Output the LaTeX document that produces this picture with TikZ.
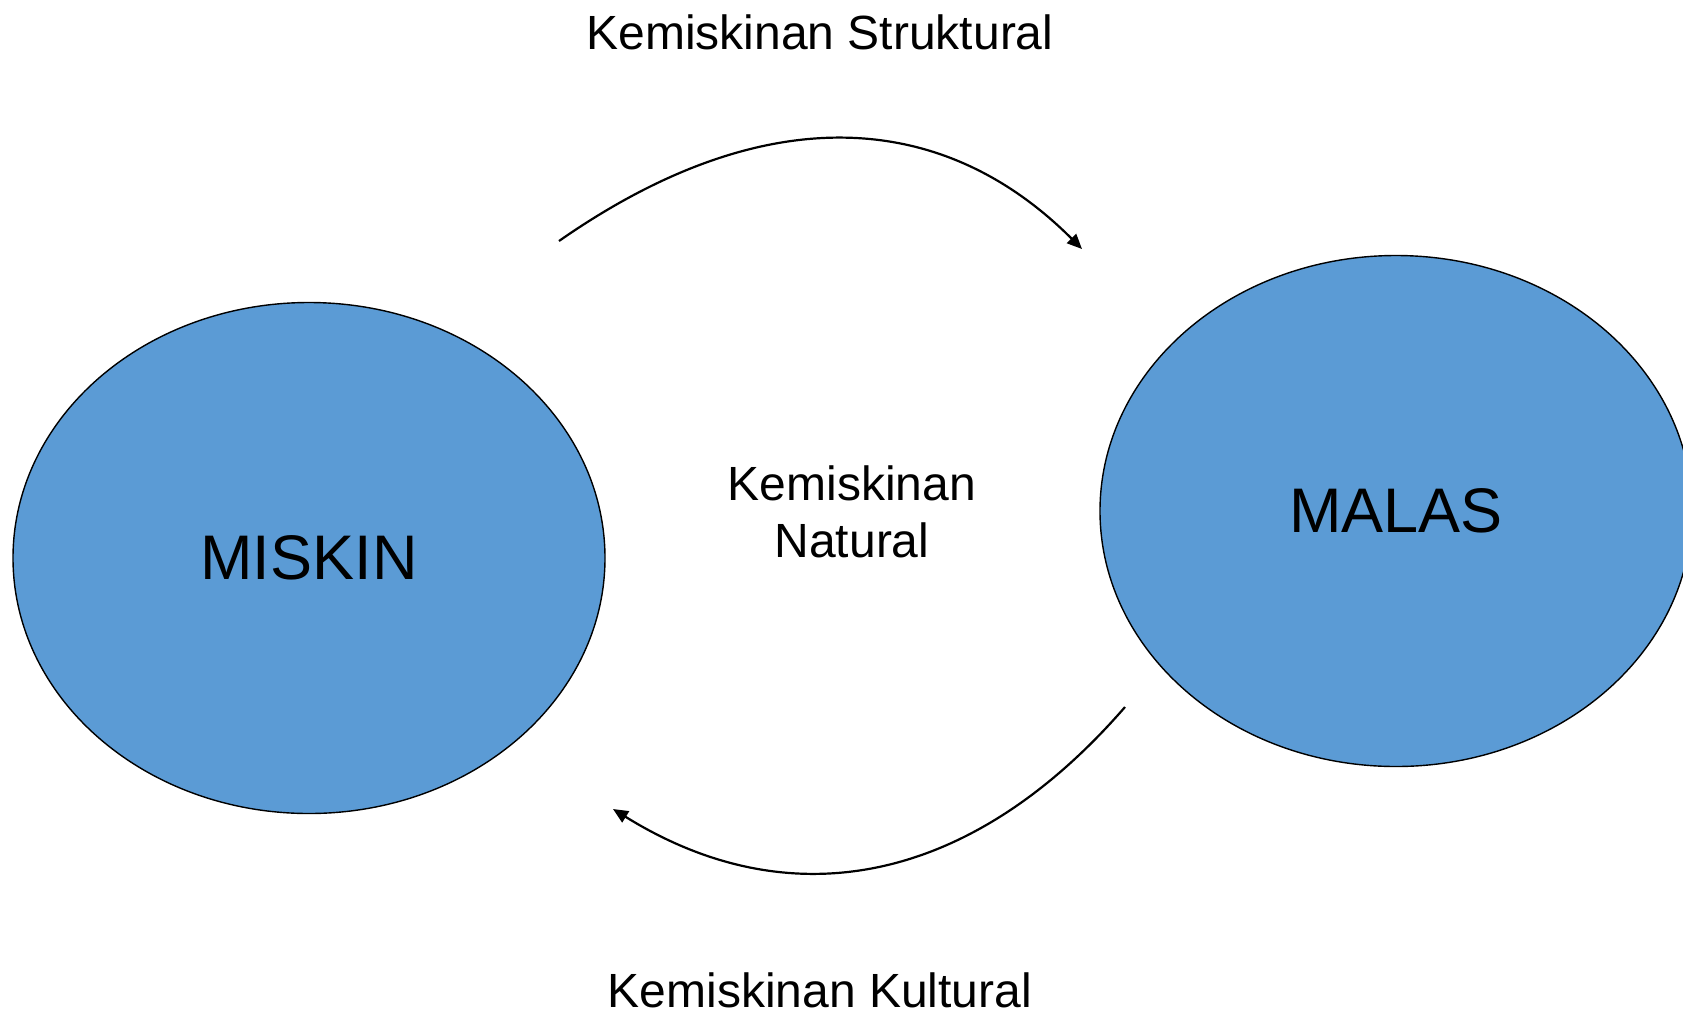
\documentclass[tikz,border=0pt]{standalone}
\usepackage{fontspec}
\setmainfont{Liberation Sans}
\usetikzlibrary{shapes.geometric,arrows.meta}
\definecolor{blobblue}{HTML}{5B9BD5}
\begin{document}
\begin{tikzpicture}[x=0.5pt,y=-0.5pt,
  blob/.style={ellipse,draw=black,line width=0.7pt,fill=blobblue,inner sep=0pt,
    minimum width=296pt,minimum height=255.5pt,font=\fontsize{31.5pt}{36pt}\selectfont},
  lbl/.style={font=\fontsize{24pt}{28.5pt}\selectfont,align=center,inner sep=0pt},
  conn/.style={line width=1.1pt,-{Triangle[length=7.5pt,width=6.5pt]}}]
\useasboundingbox (0,0) rectangle (1683,1014);
\node[blob] (miskin) at (309,558) {MISKIN};
\node[blob] (malas) at (1396,511) {MALAS};
\node[lbl] (struk) at (820,32) {Kemiskinan Struktural};
\node[lbl] (natural) at (852,512) {Kemiskinan\\Natural};
\node[lbl] (kultur) at (820,990) {Kemiskinan Kultural};
\coordinate (s1) at (559,241);
\coordinate (e1) at (1082,249);
\coordinate (s2) at (1125,707);
\coordinate (e2) at (613,809);
\draw[conn] (s1) .. controls (764,98) and (942,109) .. (e1);
\draw[conn] (s2) .. controls (975,880) and (795,922) .. (e2);
\end{tikzpicture}
\end{document}
